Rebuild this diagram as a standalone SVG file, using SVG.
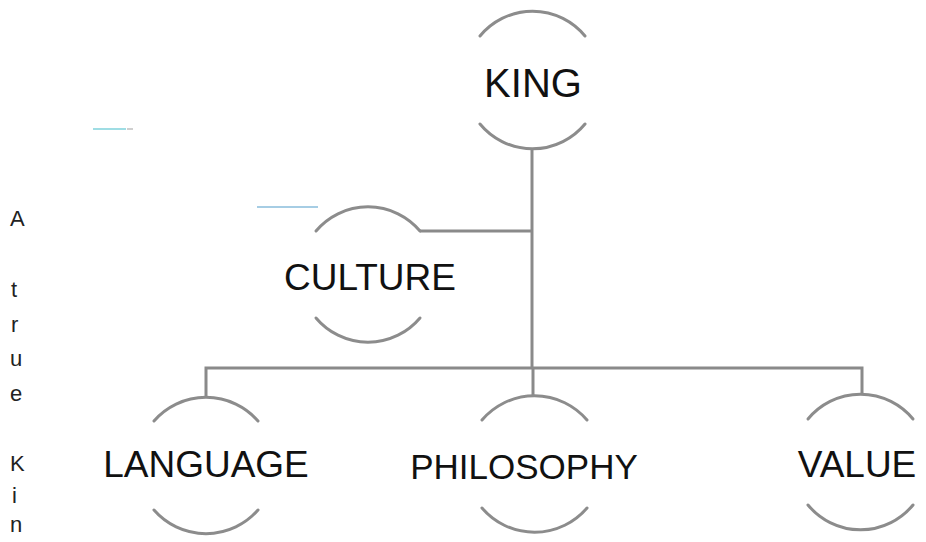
<svg xmlns="http://www.w3.org/2000/svg" width="926" height="542" viewBox="0 0 926 542">
<style>
.arc{fill:none;stroke:#8c8c8c;stroke-width:3;stroke-linecap:round}
.con{fill:none;stroke:#8a8a8a;stroke-width:3}
.lbl{font-family:"Liberation Sans",Arial,sans-serif;fill:#111;text-anchor:middle}
.side{font-family:"Liberation Sans",Arial,sans-serif;fill:#222;font-size:22px}
</style>
<rect width="926" height="542" fill="#fff"/>
<line x1="93" y1="129" x2="126" y2="129" stroke="#9fdde4" stroke-width="2"/>
<line x1="127" y1="129" x2="133" y2="129" stroke="#cfcfcf" stroke-width="2"/>
<line x1="257" y1="207" x2="318" y2="207" stroke="#a6cde4" stroke-width="2"/>
<g id="side-text" class="side">
<text x="10" y="226">A</text>
<text x="11" y="297">t</text>
<text x="11" y="332">r</text>
<text x="10" y="366">u</text>
<text x="10" y="401">e</text>
<text x="10" y="471">K</text>
<text x="12" y="503">i</text>
<text x="10" y="532">n</text>
</g>
<g id="connectors">
<polyline class="con" points="532,148 532,368"/>
<polyline class="con" points="420,231 532,231"/>
<polyline class="con" points="206,396 206,368 862,368 862,394"/>
<polyline class="con" points="533,368 533,396"/>
</g>
<g id="king">
<path class="arc" d="M480,36 A68,68 0 0 1 585,36"/>
<path class="arc" d="M480,124 A68,68 0 0 0 585,124"/>
<text class="lbl" x="533" y="97" font-size="40">KING</text>
</g>
<g id="culture">
<path class="arc" d="M316,231 A68,68 0 0 1 420,231"/>
<path class="arc" d="M316,318 A68,68 0 0 0 420,318"/>
<text class="lbl" x="370" y="290" font-size="37">CULTURE</text>
</g>
<g id="language">
<path class="arc" d="M154,421 A69,69 0 0 1 258,421"/>
<path class="arc" d="M154,510 A69,69 0 0 0 258,510"/>
<text class="lbl" x="206" y="477" font-size="37">LANGUAGE</text>
</g>
<g id="philosophy">
<path class="arc" d="M482,420 A69,69 0 0 1 587,420"/>
<path class="arc" d="M482,508 A69,69 0 0 0 587,508"/>
<text class="lbl" x="524" y="479" font-size="35">PHILOSOPHY</text>
</g>
<g id="value">
<path class="arc" d="M808,419 A68,68 0 0 1 913,419"/>
<path class="arc" d="M808,505 A68,68 0 0 0 913,505"/>
<text class="lbl" x="857" y="477" font-size="37">VALUE</text>
</g>
</svg>
